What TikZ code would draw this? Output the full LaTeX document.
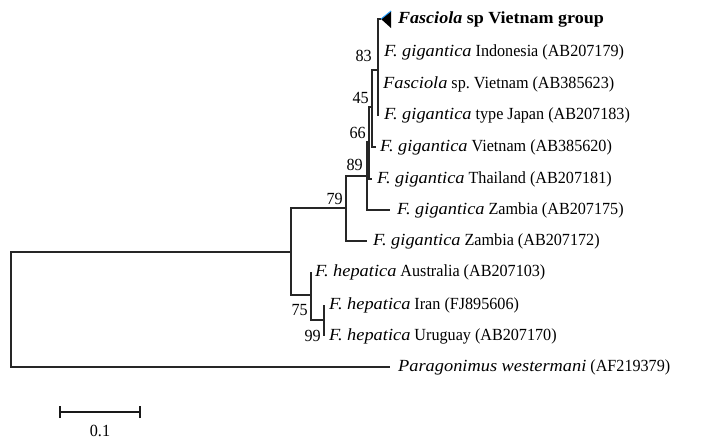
\documentclass[tikz,border=0pt]{standalone}
\usepackage{fontspec}
\setmainfont{Liberation Serif}[
  UprightFeatures={FakeStretch=0.95},
  ItalicFeatures={FakeStretch=1.08},
  BoldFeatures={FakeStretch=1.06},
  BoldItalicFeatures={FakeStretch=1.06}]
\frenchspacing
\begin{document}
\begin{tikzpicture}[x=1pt,y=-1pt,
  br/.style={line width=1.1pt, draw=black!85},
  lab/.style={anchor=west, inner sep=0pt, font=\fontsize{17}{19}\selectfont},
  bs/.style={anchor=east, inner sep=0pt, font=\fontsize{17}{19}\selectfont},
  sbar/.style={line width=2.2pt, draw=black!90}]
\useasboundingbox (0,0) rectangle (704,439);
% internal nodes (entry points)
\coordinate (root) at (11,310);
\coordinate (nFas) at (291,252);
\coordinate (n79) at (346,208);
\coordinate (n89) at (367,176);
\coordinate (n66) at (369,142);
\coordinate (n45) at (372,107);
\coordinate (n83) at (378,70);
\coordinate (nHep) at (311,295);
\coordinate (n99) at (324,320);
% tips
\coordinate (t1) at (381,19);
\coordinate (t2) at (379,52);
\coordinate (t3) at (378,84);
\coordinate (t4) at (379,115);
\coordinate (t5) at (376,147);
\coordinate (t6) at (372,179);
\coordinate (t7) at (390,210);
\coordinate (t8) at (367,241);
\coordinate (t9) at (311,272);
\coordinate (t10) at (324,305);
\coordinate (t11) at (324,336);
\coordinate (t12) at (390,367);
% branches
\draw[br] (root) |- (nFas);
\draw[br] (root) |- (t12);
\draw[br] (nFas) |- (n79);
\draw[br] (nFas) |- (nHep);
\draw[br] (n79) |- (n89);
\draw[br] (n79) |- (t8);
\draw[br] (n89) |- (n66);
\draw[br] (n89) |- (t7);
\draw[br] (n66) |- (n45);
\draw[br] (n66) |- (t6);
\draw[br] (n45) |- (n83);
\draw[br] (n45) |- (t5);
\draw[br] (n83) |- (t1);
\draw[br] (n83) |- (t2);
\draw[br] (n83) |- (t3);
\draw[br] (n83) |- (t4);
\draw[br] (nHep) |- (t9);
\draw[br] (nHep) |- (n99);
\draw[br] (n99) |- (t10);
\draw[br] (n99) |- (t11);
% collapsed group triangle
\fill[black] (t1) -- (391,11) -- (391,28) -- cycle;
\draw[line width=1pt, color={rgb,255:red,40;green,160;blue,255}] (t1) -- (391,11);
% leaf labels
\node[lab] (l1) at (398,19) {\textbf{\textit{Fasciola} sp Vietnam group}};
\node[lab] (l2) at (384,52) {\textit{F. gigantica} Indonesia (AB207179)};
\node[lab] (l3) at (383,84) {\textit{Fasciola} sp. Vietnam (AB385623)};
\node[lab] (l4) at (384,115) {\textit{F. gigantica} type Japan (AB207183)};
\node[lab] (l5) at (380,147) {\textit{F. gigantica} Vietnam (AB385620)};
\node[lab] (l6) at (377,179) {\textit{F. gigantica} Thailand (AB207181)};
\node[lab] (l7) at (397,210) {\textit{F. gigantica} Zambia (AB207175)};
\node[lab] (l8) at (373,241) {\textit{F. gigantica} Zambia (AB207172)};
\node[lab] (l9) at (315,272) {\textit{F. hepatica} Australia (AB207103)};
\node[lab] (l10) at (329,305) {\textit{F. hepatica} Iran (FJ895606)};
\node[lab] (l11) at (329,336) {\textit{F. hepatica} Uruguay (AB207170)};
\node[lab] (l12) at (398,367) {\textit{Paragonimus westermani} (AF219379)};
% bootstrap values
\node[bs] (b83) at (372,56) {83};
\node[bs] (b45) at (369,98) {45};
\node[bs] (b66) at (366,133) {66};
\node[bs] (b89) at (363,165) {89};
\node[bs] (b79) at (343,199) {79};
\node[bs] (b75) at (308,310) {75};
\node[bs] (b99) at (321,336) {99};
% scale bar
\coordinate (s1) at (60,412);
\coordinate (s2) at (140,412);
\draw[sbar] (s1) -- (s2);
\draw[sbar, line width=1.8pt] ([yshift=-6pt]s1) -- ([yshift=6pt]s1);
\draw[sbar, line width=1.8pt] ([yshift=-6pt]s2) -- ([yshift=6pt]s2);
\node[bs, anchor=center] (sl) at (100,431) {0.1};
\end{tikzpicture}
\end{document}
